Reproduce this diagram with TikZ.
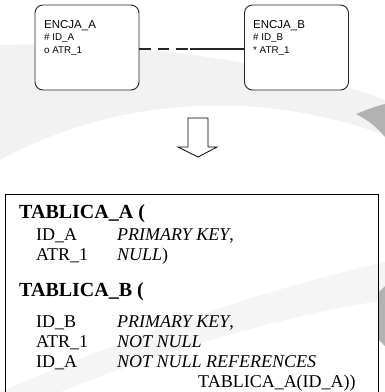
\documentclass[tikz,border=0pt]{standalone}
\usepackage{fontspec}
\setmainfont{Liberation Serif}
\newfontfamily\arialfont{Liberation Sans}
\begin{document}
\begin{tikzpicture}[x=1pt,y=-1pt,
  ent/.style={draw=black!85,line width=0.9pt,rounded corners=8pt,minimum width=104pt,minimum height=85pt,inner sep=0pt},
  etitle/.style={anchor=base west,inner sep=0pt,font=\arialfont\fontsize{11.5}{13}\selectfont},
  eattr/.style={anchor=base west,inner sep=0pt,font=\arialfont\fontsize{9.8}{11}\selectfont},
  ttitle/.style={anchor=base west,inner sep=0pt,font=\fontsize{20}{24}\selectfont\bfseries},
  tbody/.style={anchor=base west,inner sep=0pt,font=\fontsize{18}{20}\selectfont},
  tcons/.style={anchor=base west,inner sep=0pt,font=\fontsize{18}{20}\selectfont\itshape},
  rel/.style={line width=1.3pt,black!85}]
\useasboundingbox (0,0) rectangle (385,392);
% faint watermark swooshes
\fill[black!5] (0,45) .. controls (120,40) and (280,60) .. (385,100) -- (385,135) .. controls (260,90) and (120,95) .. (0,160) -- cycle;
\fill[black!30] (356,114) .. controls (366,110) and (376,106) .. (385,104) -- (385,137) .. controls (378,128) and (368,120) .. (356,114) -- cycle;
\fill[black!4] (0,392) .. controls (120,340) and (260,290) .. (385,262) -- (385,300) .. controls (260,320) and (140,360) .. (60,392) -- cycle;
\fill[black!30] (379,292) -- (385,286) -- (385,346) -- (379,340) -- cycle;
% entities
\node[ent,fill=white] (a) at (87,47.5) {};
\node[ent,fill=white] (b) at (296.5,47.5) {};
\node[etitle] (an) at (44,28) {ENCJA\_A};
\node[eattr] (a1) at (44,40) {\# ID\_A};
\node[eattr] (a2) at (44,53.5) {o ATR\_1};
\node[etitle] (bn) at (253,28) {ENCJA\_B};
\node[eattr] (b1) at (253,40) {\# ID\_B};
\node[eattr] (b2) at (253,53.5) {* ATR\_1};
% relationship
\coordinate (m) at (190,49);
\draw[rel,dash pattern=on 11.5pt off 7pt] (a.east |- m) -- (m);
\draw[rel] (m) -- (b.west |- m);
% arrow
\draw[line width=0.8pt,fill=white] (188,118) -- (208,118) -- (208,147) -- (217,147) -- (198,157) -- (178,147) -- (188,147) -- cycle;
% table box
\draw[line width=1pt] (5,194) rectangle (378,400);
\node[ttitle] (ta) at (19,218) {TABLICA\_A (};
\node[tbody] (ta1) at (36,240) {ID\_A};
\node[tcons] (ta1c) at (117,240) {PRIMARY KEY\upshape,};
\node[tbody] (ta2) at (36,260) {ATR\_1};
\node[tcons] (ta2c) at (117,260) {NULL\upshape)};
\node[ttitle] (tb) at (19,296) {TABLICA\_B (};
\node[tbody] (tb1) at (36,327) {ID\_B};
\node[tcons] (tb1c) at (117,327) {PRIMARY KEY\upshape,};
\node[tbody] (tb2) at (36,347) {ATR\_1};
\node[tcons] (tb2c) at (117,347) {NOT NULL};
\node[tbody] (tb3) at (36,367) {ID\_A};
\node[tcons] (tb3c) at (117,367) {NOT NULL REFERENCES};
\node[tbody] (tb4) at (198,387) {TABLICA\_A(ID\_A))};
\end{tikzpicture}
\end{document}
